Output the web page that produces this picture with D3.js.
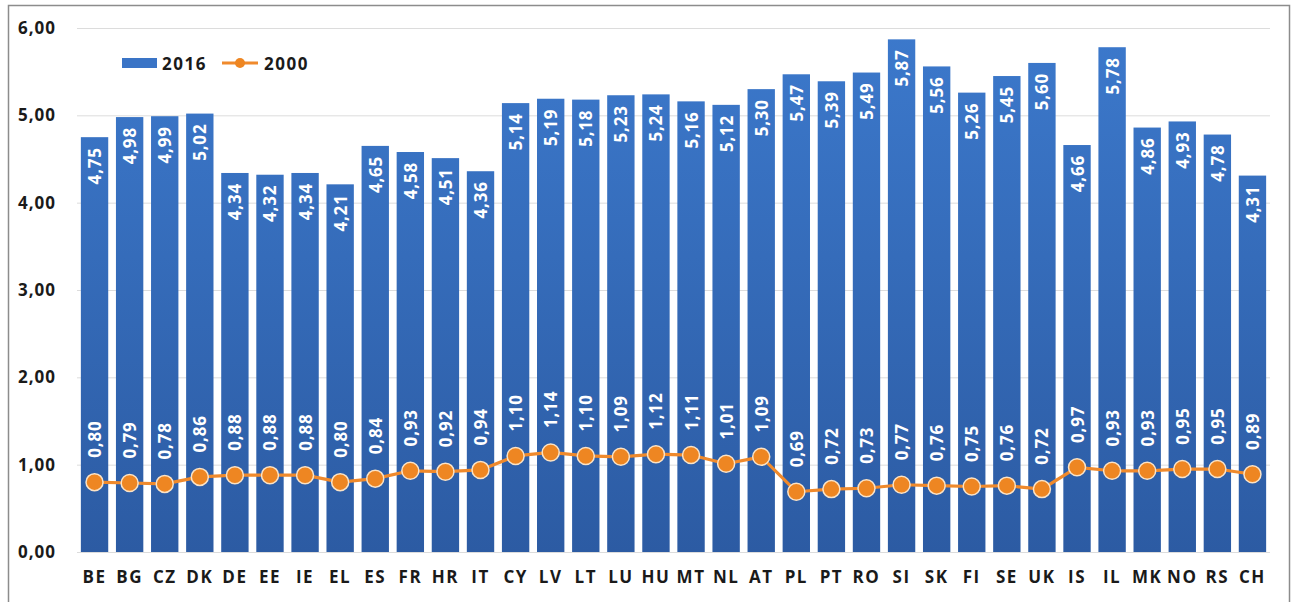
<!DOCTYPE html>
<html>
<head>
<meta charset="utf-8">
<script src="https://cdn.jsdelivr.net/npm/d3@7"></script>
<style>
  html, body { margin: 0; padding: 0; background: #fff; }
  svg { display: block; font-family: "Open Sans", sans-serif; }
</style>
</head>
<body>
<svg id="chart" width="1293" height="602"></svg>
<script>
const categories = ["BE","BG","CZ","DK","DE","EE","IE","EL","ES","FR","HR","IT","CY","LV","LT","LU","HU","MT","NL","AT","PL","PT","RO","SI","SK","FI","SE","UK","IS","IL","MK","NO","RS","CH"];
const values2016 = [4.75,4.98,4.99,5.02,4.34,4.32,4.34,4.21,4.65,4.58,4.51,4.36,5.14,5.19,5.18,5.23,5.24,5.16,5.12,5.30,5.47,5.39,5.49,5.87,5.56,5.26,5.45,5.60,4.66,5.78,4.86,4.93,4.78,4.31];
const values2000 = [0.80,0.79,0.78,0.86,0.88,0.88,0.88,0.80,0.84,0.93,0.92,0.94,1.10,1.14,1.10,1.09,1.12,1.11,1.01,1.09,0.69,0.72,0.73,0.77,0.76,0.75,0.76,0.72,0.97,0.93,0.93,0.95,0.95,0.89];
const yTicks = [0,1,2,3,4,5,6];
const seriesNames = ["2016","2000"];

const fmt = v => v.toFixed(2).replace(".", ",");

const svg = d3.select("#chart");
const plot = { left: 77, right: 1270, top: 28, bottom: 552 };

const x = d3.scaleBand().domain(categories).range([plot.left, plot.right]).paddingInner(0.22).paddingOuter(0.11);
const y = d3.scaleLinear().domain([0, 6]).range([plot.bottom, plot.top]);

// outer frame
svg.append("rect").attr("x", 8.5).attr("y", 5.5).attr("width", 1281).attr("height", 605)
  .attr("fill", "none").attr("stroke", "#8c8c8c").attr("stroke-width", 1.5);

// bar fill gradient shared across the plot height
const defs = svg.append("defs");
const grad = defs.append("linearGradient").attr("id", "barGrad")
  .attr("gradientUnits", "userSpaceOnUse").attr("x1", 0).attr("x2", 0)
  .attr("y1", plot.top).attr("y2", plot.bottom);
grad.append("stop").attr("offset", "0%").attr("stop-color", "#3c79cc");
grad.append("stop").attr("offset", "100%").attr("stop-color", "#2c5ba3");

// gridlines
svg.append("g").selectAll("line").data(yTicks).join("line")
  .attr("x1", plot.left).attr("x2", plot.right)
  .attr("y1", d => y(d) + 0.5).attr("y2", d => y(d) + 0.5)
  .attr("stroke", "#dcdcdc").attr("stroke-width", 1);

// y axis labels
const yAxis = d3.axisLeft(y).tickValues(yTicks).tickFormat(fmt).tickSize(0).tickPadding(0);
svg.append("g").attr("transform", "translate(56,0)").call(yAxis)
  .call(g => g.select(".domain").remove())
  .call(g => g.selectAll("text").attr("font-size", 17).attr("font-weight", 700)
    .attr("fill", "#1a1a1a").attr("font-family", "Open Sans").attr("letter-spacing", "1px"));

// x axis labels
const xAxis = d3.axisBottom(x).tickSize(0).tickPadding(0);
svg.append("g").attr("transform", `translate(0,${plot.bottom + 19})`).call(xAxis)
  .call(g => g.select(".domain").remove())
  .call(g => g.selectAll("text").attr("font-size", 17).attr("font-weight", 700)
    .attr("fill", "#1a1a1a").attr("font-family", "Open Sans").attr("letter-spacing", "1.5px"));

// 2016 bars
svg.append("g").selectAll("rect").data(categories).join("rect")
  .attr("x", d => x(d)).attr("width", x.bandwidth())
  .attr("y", (d, i) => y(values2016[i]))
  .attr("height", (d, i) => y(0) - y(values2016[i]))
  .attr("fill", "url(#barGrad)");

// 2016 labels
svg.append("g").selectAll("text").data(categories).join("text")
  .attr("transform", (d, i) => `translate(${x(d) + x.bandwidth() / 2},${y(values2016[i]) + 10}) rotate(-90)`)
  .attr("text-anchor", "end").attr("dominant-baseline", "central")
  .attr("font-size", 17).attr("font-weight", 700).attr("fill", "#fff").attr("letter-spacing", "0.8px")
  .text((d, i) => fmt(values2016[i]));

// 2000 line
const cx = d => x(d) + x.bandwidth() / 2;
const line = d3.line().x((d, i) => cx(categories[i])).y(d => y(d));
svg.append("path").datum(values2000).attr("d", line)
  .attr("fill", "none").attr("stroke", "#f08a2c").attr("stroke-width", 3.2).attr("stroke-linejoin", "round");

svg.append("g").selectAll("circle").data(values2000).join("circle")
  .attr("cx", (d, i) => cx(categories[i])).attr("cy", d => y(d)).attr("r", 8.5)
  .attr("fill", "#ee8622").attr("stroke", "#fbe3c6").attr("stroke-width", 1.5);

// 2000 labels
svg.append("g").selectAll("text").data(values2000).join("text")
  .attr("transform", (d, i) => `translate(${cx(categories[i])},${y(d) - 43}) rotate(-90)`)
  .attr("text-anchor", "middle").attr("dominant-baseline", "central")
  .attr("font-size", 17).attr("font-weight", 700).attr("fill", "#fff").attr("letter-spacing", "0.8px")
  .text(d => fmt(d));

// legend
const lg = svg.append("g");
lg.append("rect").attr("x", 122).attr("y", 58).attr("width", 35).attr("height", 10).attr("fill", "#3a74c6");
lg.append("text").attr("x", 162).attr("y", 63).attr("dominant-baseline", "central")
  .attr("font-size", 17).attr("font-weight", 700).attr("fill", "#1a1a1a").attr("letter-spacing", "1.5px")
  .text(seriesNames[0]);
lg.append("line").attr("x1", 222).attr("x2", 258).attr("y1", 63).attr("y2", 63)
  .attr("stroke", "#f08a2c").attr("stroke-width", 3);
lg.append("circle").attr("cx", 240).attr("cy", 63).attr("r", 5).attr("fill", "#ee8622");
lg.append("text").attr("x", 264).attr("y", 63).attr("dominant-baseline", "central")
  .attr("font-size", 17).attr("font-weight", 700).attr("fill", "#1a1a1a").attr("letter-spacing", "1.5px")
  .text(seriesNames[1]);
</script>
</body>
</html>
